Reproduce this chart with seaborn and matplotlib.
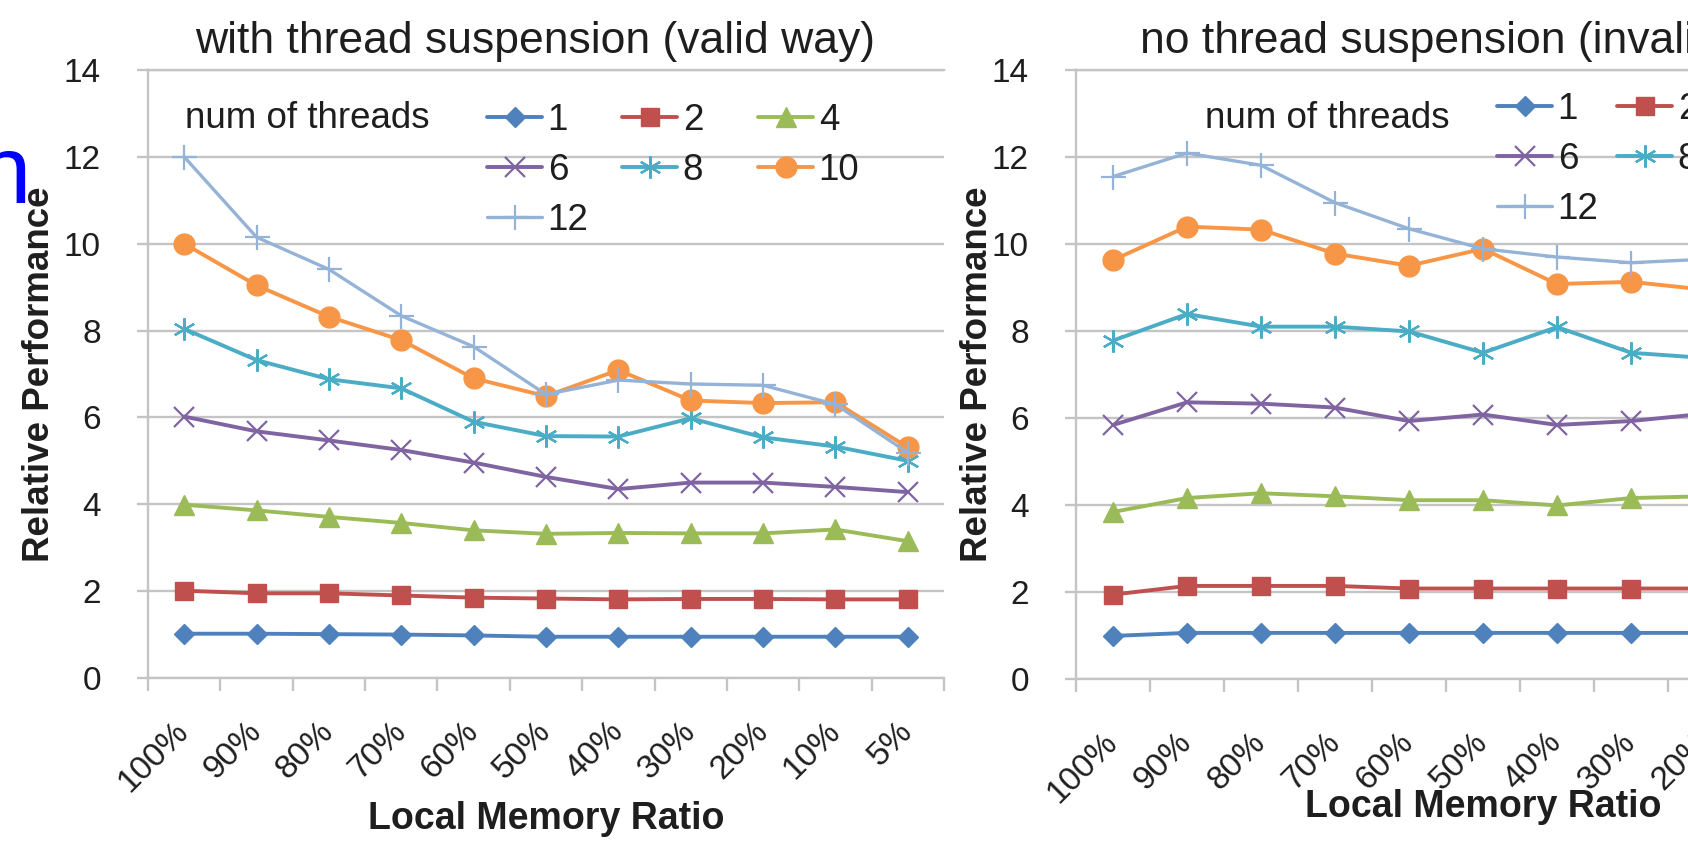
import numpy as np
import pandas as pd
import matplotlib
matplotlib.use("Agg")
import matplotlib.pyplot as plt
import seaborn as sns
from matplotlib.lines import Line2D

# ---------------- data ----------------
ratios = ['100%', '90%', '80%', '70%', '60%', '50%', '40%', '30%', '20%', '10%', '5%']
threads = ['1', '2', '4', '6', '8', '10', '12']

# with thread suspension (valid way)
valid_1 = [1.02, 1.02, 1.01, 1.00, 0.98, 0.95, 0.95, 0.95, 0.95, 0.95, 0.95]
valid_2 = [2.01, 1.95, 1.95, 1.90, 1.85, 1.83, 1.81, 1.82, 1.82, 1.81, 1.81]
valid_4 = [3.99, 3.86, 3.71, 3.57, 3.40, 3.32, 3.34, 3.33, 3.33, 3.42, 3.15]
valid_6 = [6.02, 5.68, 5.47, 5.25, 4.96, 4.63, 4.35, 4.50, 4.50, 4.40, 4.28]
valid_8 = [8.04, 7.32, 6.88, 6.67, 5.90, 5.57, 5.56, 5.98, 5.54, 5.33, 5.00]
valid_10 = [10.0, 9.04, 8.32, 7.78, 6.90, 6.49, 7.09, 6.39, 6.33, 6.35, 5.31]
valid_12 = [12.0, 10.15, 9.41, 8.34, 7.63, 6.53, 6.86, 6.77, 6.74, 6.30, 5.19]

# no thread suspension (invalid way)
invalid_1 = [0.99, 1.06, 1.06, 1.06, 1.06, 1.06, 1.06, 1.06, 1.06, 1.06, 1.06]
invalid_2 = [1.94, 2.14, 2.14, 2.14, 2.08, 2.08, 2.08, 2.08, 2.08, 2.08, 2.08]
invalid_4 = [3.84, 4.16, 4.27, 4.20, 4.11, 4.11, 3.99, 4.16, 4.20, 4.20, 4.20]
invalid_6 = [5.84, 6.36, 6.33, 6.24, 5.93, 6.08, 5.84, 5.93, 6.10, 6.10, 6.10]
invalid_8 = [7.78, 8.39, 8.10, 8.10, 7.99, 7.50, 8.09, 7.50, 7.38, 7.40, 7.40]
invalid_10 = [9.63, 10.40, 10.33, 9.78, 9.50, 9.89, 9.08, 9.13, 8.95, 9.00, 9.00]
invalid_12 = [11.55, 12.09, 11.81, 10.95, 10.35, 9.89, 9.70, 9.57, 9.65, 9.65, 9.65]

title_left = "with thread suspension (valid way)"
title_right = "no thread suspension (invalid way)"
xlabel = "Local Memory Ratio"
ylabel = "Relative Performance"
legend_title = "num of threads"
yticks = [0, 2, 4, 6, 8, 10, 12, 14]

# ---------------- style ----------------
sns.set_theme(style="white")
plt.rcParams['font.family'] = ['Liberation Sans', 'DejaVu Sans']
TXT = '#1e1e1e'
GRID = '#c4c4c4'

colors = {'1': '#4F81BD', '2': '#C0504D', '4': '#9BBB59', '6': '#8064A2',
          '8': '#4BACC6', '10': '#F79646', '12': '#95B3D7'}
marker_spec = {
    '1': dict(marker='D', markersize=10, markeredgewidth=1.0),
    '2': dict(marker='s', markersize=13, markeredgewidth=1.0),
    '4': dict(marker='^', markersize=14, markeredgewidth=1.0),
    '6': dict(marker='x', markersize=14, markeredgewidth=1.6),
    '8': dict(marker=(6, 2, 0), markersize=16, markeredgewidth=1.6),
    '10': dict(marker='o', markersize=15, markeredgewidth=1.0),
    '12': dict(marker='+', markersize=18, markeredgewidth=1.6),
}
line_w = {'1': 2.8, '2': 2.8, '4': 2.8, '6': 2.8, '8': 2.8, '10': 2.8, '12': 2.4}

W, H = 1688, 855
fig = plt.figure(figsize=(W / 100, H / 100), dpi=100)
fig.patch.set_facecolor('white')


def fx(px):
    return px / W


def fy(py):
    return 1 - py / H


def make_df(series):
    return pd.DataFrame({
        'pos': np.tile(np.arange(len(ratios)), len(threads)),
        'ratio': np.tile(ratios, len(threads)),
        'perf': np.concatenate(series),
        'threads': np.repeat(threads, len(ratios)),
    })


df_valid = make_df([valid_1, valid_2, valid_4, valid_6, valid_8, valid_10, valid_12])
df_invalid = make_df([invalid_1, invalid_2, invalid_4, invalid_6, invalid_8, invalid_10, invalid_12])


def draw_panel(ax, df, title, title_x, xpad, xlab_y, ylab_x):
    for th in threads:
        sub = df[df['threads'] == th]
        sns.lineplot(data=sub, x='pos', y='perf', ax=ax, color=colors[th],
                     linewidth=line_w[th], markeredgecolor=colors[th],
                     errorbar=None, legend=False, sort=False, **marker_spec[th])
    ax.set_xlim(-0.5, len(ratios) - 0.5)
    ax.set_ylim(0, 14)
    ax.set_xticks(np.arange(len(ratios)))
    ax.set_xticklabels(ratios, fontsize=24, color=TXT)
    for lab in ax.get_xticklabels():
        lab.set_rotation(45)
        lab.set_rotation_mode('anchor')
        lab.set_ha('right')
        lab.set_va('center')
    ax.set_xticks(np.arange(-0.5, len(ratios), 1.0), minor=True)
    ax.tick_params(axis='x', which='major', length=0, pad=xpad)
    ax.tick_params(axis='x', which='minor', length=9.5, width=1.7, color=GRID,
                   direction='out', bottom=True)
    ax.set_yticks(yticks)
    ax.set_yticklabels([str(v) for v in yticks], fontsize=24, color=TXT)
    ax.tick_params(axis='y', length=8, width=1.7, color=GRID, pad=26,
                   direction='out', left=True)
    ax.grid(axis='y', color=GRID, linewidth=1.7)
    ax.grid(axis='x', visible=False)
    ax.set_axisbelow(True)
    for s in ['left', 'top', 'bottom']:
        ax.spines[s].set_visible(True)
        ax.spines[s].set_color(GRID)
        ax.spines[s].set_linewidth(1.7)
    ax.spines['right'].set_visible(False)
    ax.set_title(title, fontsize=32, color=TXT, pad=12, x=title_x)
    ax.set_xlabel(xlabel, fontsize=27, fontweight='bold', color=TXT)
    ax.set_ylabel(ylabel, fontsize=26.5, fontweight='bold', color=TXT)
    ax.xaxis.set_label_coords(0.5, xlab_y)
    ax.yaxis.set_label_coords(ylab_x, 0.5)
    ax.set_facecolor('white')


ax1 = fig.add_axes([fx(148), fy(678), fx(944) - fx(148), fy(70) - fy(678)])
ax2 = fig.add_axes([fx(1076), fy(679), 814 / W, fy(70) - fy(679)])
draw_panel(ax1, df_valid, title_left, 0.486, 35, -0.202, -0.114)
draw_panel(ax2, df_invalid, title_right, 0.5, 42, -0.181, -0.0995)


def handle(th):
    return Line2D([], [], color=colors[th], linewidth=line_w[th],
                  markeredgecolor=colors[th], **marker_spec[th])


columns = [['1', '6', '12'], ['2', '8'], ['4', '10']]


def add_legend(col_x, top_y, title_x, title_y, spacing):
    fig.text(fx(title_x), fy(title_y), legend_title, fontsize=26.5, color=TXT,
             ha='left', va='center')
    for cx, col in zip(col_x, columns):
        fig.legend(handles=[handle(t) for t in col], labels=col,
                   loc='upper left', bbox_to_anchor=(fx(cx), fy(top_y)),
                   frameon=False, borderpad=0, borderaxespad=0,
                   handlelength=1.5, handletextpad=0.15, labelspacing=spacing,
                   fontsize=26.5, labelcolor=TXT, numpoints=1)


add_legend([487, 622, 758], 103, 185, 118, 0.41)
add_legend([1497, 1617, 1737], 92, 1205, 118, 0.41)

# stray blue glyph cut at the left edge of the original picture
fig.text(fx(-22), fy(203), 'n', fontsize=69, color='#0000ff', ha='left', va='baseline')

fig.savefig('out.png', dpi=100, facecolor='white')
